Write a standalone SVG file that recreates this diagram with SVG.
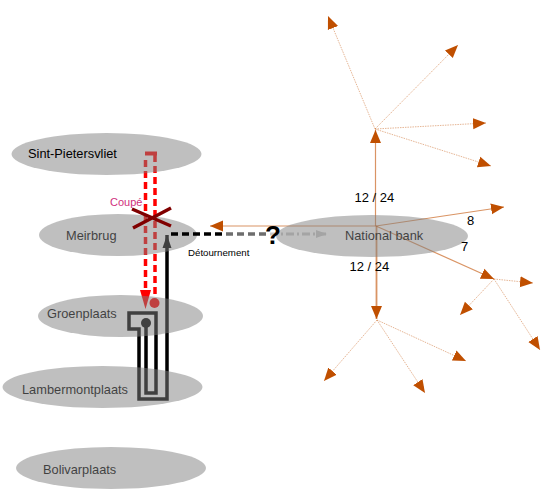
<svg xmlns="http://www.w3.org/2000/svg" width="550" height="500" viewBox="0 0 550 500">
<style>
text{font-family:"Liberation Sans",Arial,sans-serif;fill:#000}
.n{font-size:12.800px}
.e{fill:#808080;fill-opacity:.5}
.o{fill:none;stroke:#c55a11;stroke-width:1.200;stroke-opacity:.65;marker-end:url(#oh)}
.d{fill:none;stroke:#c55a11;stroke-width:1;stroke-opacity:.45;stroke-dasharray:1.500 1;marker-end:url(#oh)}
.num{font-size:13px}
.r{fill:none;stroke:#ff0000;stroke-width:3.500;stroke-dasharray:7 4}
</style>
<defs>
<marker id="oh" markerUnits="userSpaceOnUse" markerWidth="14" markerHeight="14" viewBox="0 0 14 14" refX="13" refY="7" orient="auto"><path d="M0 1.500L13 7L0 12.500Z" fill="#c04f00"/></marker>
<marker id="rh" markerUnits="userSpaceOnUse" markerWidth="20" markerHeight="12" viewBox="0 0 20 12" refX="19" refY="6" orient="auto"><path d="M0 .5L19 6L0 11.500Z" fill="#ff0000"/></marker>
<marker id="kh" markerUnits="userSpaceOnUse" markerWidth="14" markerHeight="12" viewBox="0 0 14 12" refX="13" refY="6" orient="auto"><path d="M0 1.500L13 6L0 10.500Z" fill="#000"/></marker>
<marker id="gh" markerUnits="userSpaceOnUse" markerWidth="12" markerHeight="10" viewBox="0 0 12 10" refX="11" refY="5" orient="auto"><path d="M0 1L11 5L0 9Z" fill="#c8c8c8"/></marker>
</defs>
<g id="connectors-under">
<path class="o" d="M376 226H210"/>
<path class="o" d="M375.500 226V130"/>
<path class="o" d="M376 226L504 207"/>
<path class="o" d="M376 226L494 279"/>
<path class="o" d="M376.500 226V319" style="stroke-width:1.800"/>
<path class="d" d="M375 129L328 16"/>
<path class="d" d="M375 129L458 45"/>
<path class="d" d="M375 129L486 123"/>
<path class="d" d="M375 129L491 166"/>
<path class="d" d="M494 279L533 283"/>
<path class="d" d="M494 279L460 315"/>
<path class="d" d="M494 279L540 350"/>
<path class="d" d="M377 320L324 381"/>
<path class="d" d="M377 320L425 393"/>
<path class="d" d="M377 320L466 361"/>
<path d="M145 153.500H157" fill="none" stroke="#ff0000" stroke-width="4"/>
<path class="r" d="M145.500 160V290"/>
<path class="r" d="M155 155V298"/>
<path d="M145.500 288V309" fill="none" stroke="none" marker-end="url(#rh)"/>
<circle cx="154.500" cy="303" r="5" fill="#ff0000"/>
<path d="M146 323V393H156V313H129V329H139V399H167V235" fill="none" stroke="#000" stroke-width="3.500" marker-end="url(#kh)"/>
<circle cx="146" cy="323" r="5" fill="#000"/>
<path d="M270 234H327" fill="none" stroke="#c8c8c8" stroke-width="3" stroke-dasharray="8 3 2 3" marker-end="url(#gh)"/>
</g>
<g id="node-sint-pietersvliet"><ellipse class="e" cx="106.500" cy="154" rx="95" ry="21"/><text class="n" x="28" y="158">Sint-Pietersvliet</text></g>
<g id="node-meirbrug"><text class="n" x="66" y="240">Meirbrug</text><ellipse class="e" cx="118" cy="235" rx="79" ry="21"/></g>
<g id="node-groenplaats"><text class="n" x="47" y="318">Groenplaats</text><ellipse class="e" cx="120.500" cy="316" rx="82.500" ry="21"/></g>
<g id="node-lambermontplaats"><text class="n" x="22" y="394">Lambermontplaats</text><ellipse class="e" cx="102.500" cy="387" rx="100" ry="21"/></g>
<g id="node-bolivarplaats"><text class="n" x="43" y="474">Bolivarplaats</text><ellipse class="e" cx="111" cy="468" rx="95" ry="21"/></g>
<g id="node-national-bank"><text class="n" x="345" y="240">National bank</text><ellipse class="e" cx="372" cy="236" rx="96" ry="21"/></g>
<g id="connectors-over">
<path d="M171 234H225" fill="none" stroke="#000" stroke-width="3.500" stroke-dasharray="7 4"/>
<path d="M226 234H266" fill="none" stroke="#6e6e6e" stroke-width="3.500" stroke-dasharray="7 4"/>
<path d="M132 209L171 226M133 228L171 208" fill="none" stroke="#800000" stroke-width="3.500"/>
</g>
<g id="labels">
<text x="110" y="206" font-size="11" style="fill:#d0307c">Coupé</text>
<text x="188" y="256" font-size="9.700">Détournement</text>
<text x="265" y="244" font-size="26" font-weight="bold">?</text>
<text class="num" x="354.500" y="202">12 / 24</text>
<text class="num" x="349.500" y="271">12 / 24</text>
<text class="num" x="467" y="225">8</text>
<text class="num" x="461" y="251">7</text>
</g>
</svg>
